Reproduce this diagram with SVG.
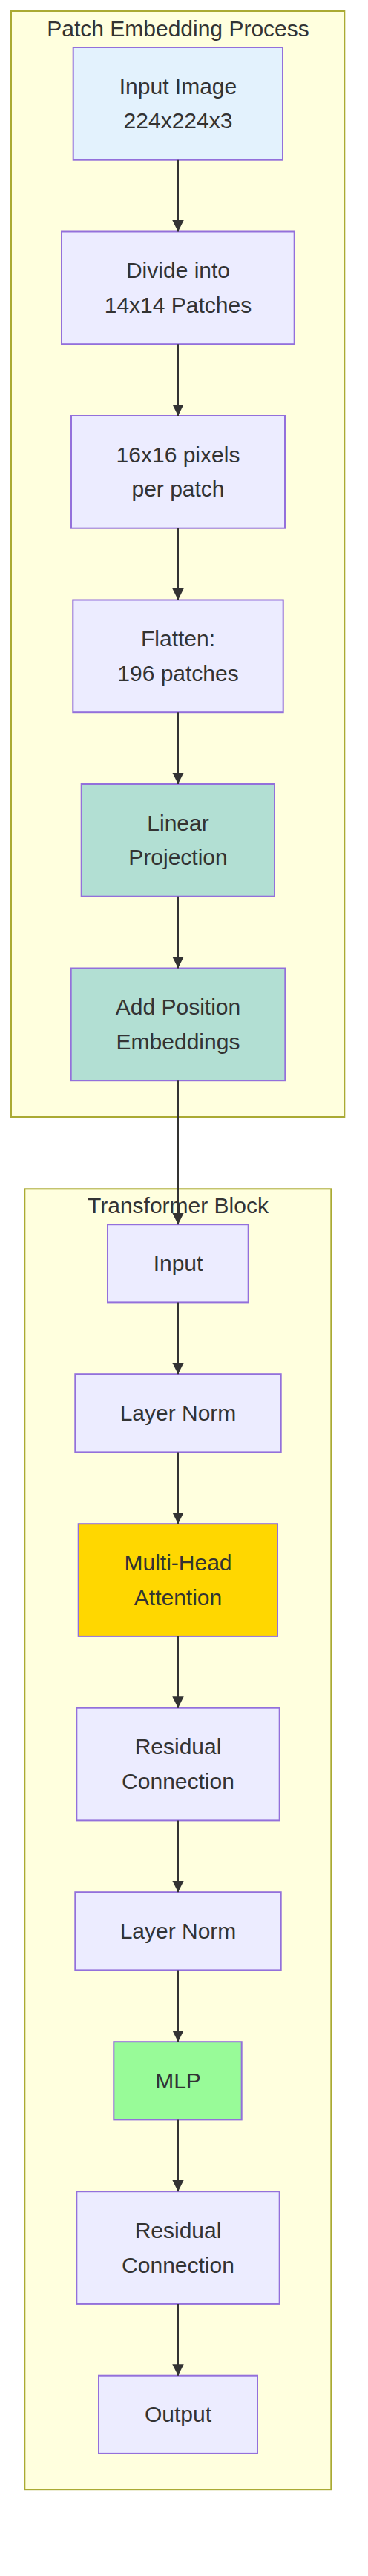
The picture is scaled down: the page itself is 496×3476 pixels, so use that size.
<svg xmlns="http://www.w3.org/2000/svg" width="496" height="3476" viewBox="0 0 496 3476">
<style>
.cluster{fill:#ffffde;stroke:#aaaa33;stroke-width:2}
.ctitle{font-family:"Liberation Sans",Arial,sans-serif;font-size:30px;fill:#333;text-anchor:middle}
.node rect{fill:#ececff;stroke:#9370db;stroke-width:2}
.node text{font-family:"Liberation Sans",Arial,sans-serif;font-size:30px;fill:#333;text-anchor:middle}
.edge{fill:none;stroke:#333;stroke-width:2}
</style>
<defs>
<marker id="arrow" viewBox="0 0 10 10" refX="10" refY="5" markerWidth="15.5" markerHeight="15.5" markerUnits="userSpaceOnUse" orient="auto">
<path d="M0,0 L10,5 L0,10 z" fill="#333"/>
</marker>
</defs>
<rect fill="#ffffff" x="0" y="0" width="496" height="3476"/>
<g id="cluster-patch">
<rect class="cluster" x="15" y="15" width="449.3" height="1492"/>
<text class="ctitle" x="240" y="49">Patch Embedding Process</text>
</g>
<g id="cluster-transformer">
<rect class="cluster" x="33.3" y="1604.3" width="413" height="1754.9"/>
<text class="ctitle" x="240" y="1637">Transformer Block</text>
</g>
<g id="node-input-image" class="node">
<rect x="98.7" y="64" width="282.3" height="151.7" style="fill:#e3f2fd"/>
<text x="240" y="126.7">Input Image</text>
<text x="240" y="173.4">224x224x3</text>
</g>
<g id="node-divide" class="node">
<rect x="83" y="312.5" width="313.7" height="151.7"/>
<text x="240" y="375.2">Divide into</text>
<text x="240" y="421.9">14x14 Patches</text>
</g>
<g id="node-pixels" class="node">
<rect x="96" y="561" width="288" height="151.7"/>
<text x="240" y="623.7">16x16 pixels</text>
<text x="240" y="670.4">per patch</text>
</g>
<g id="node-flatten" class="node">
<rect x="98.3" y="809.5" width="283.4" height="151.7"/>
<text x="240" y="872.2">Flatten:</text>
<text x="240" y="918.9">196 patches</text>
</g>
<g id="node-linear" class="node">
<rect x="109.7" y="1058" width="260.3" height="151.7" style="fill:#b2dfd3"/>
<text x="240" y="1120.7">Linear</text>
<text x="240" y="1167.4">Projection</text>
</g>
<g id="node-position" class="node">
<rect x="95.7" y="1306.5" width="288.6" height="151.7" style="fill:#b2dfd3"/>
<text x="240" y="1369.2">Add Position</text>
<text x="240" y="1415.9">Embeddings</text>
</g>
<g id="node-input" class="node">
<rect x="145" y="1652.2" width="189.7" height="105.2"/>
<text x="240" y="1715.3">Input</text>
</g>
<g id="node-ln1" class="node">
<rect x="101.3" y="1854.2" width="277.4" height="105.2"/>
<text x="240" y="1917.3">Layer Norm</text>
</g>
<g id="node-mha" class="node">
<rect x="105.7" y="2056.2" width="268.3" height="151.7" style="fill:#ffd700"/>
<text x="240" y="2118.9">Multi-Head</text>
<text x="240" y="2165.6">Attention</text>
</g>
<g id="node-res1" class="node">
<rect x="103.3" y="2304.7" width="273.4" height="151.7"/>
<text x="240" y="2367.4">Residual</text>
<text x="240" y="2414.1">Connection</text>
</g>
<g id="node-ln2" class="node">
<rect x="101.3" y="2553.2" width="277.4" height="105.2"/>
<text x="240" y="2616.4">Layer Norm</text>
</g>
<g id="node-mlp" class="node">
<rect x="153.3" y="2755.2" width="172.4" height="105.2" style="fill:#98fb98"/>
<text x="240" y="2818.3">MLP</text>
</g>
<g id="node-res2" class="node">
<rect x="103.3" y="2957.2" width="273.4" height="151.7"/>
<text x="240" y="3019.9">Residual</text>
<text x="240" y="3066.6">Connection</text>
</g>
<g id="node-output" class="node">
<rect x="133" y="3205.7" width="214" height="105.2"/>
<text x="240" y="3268">Output</text>
</g>
<g id="connectors">
<path class="edge" marker-end="url(#arrow)" d="M240,215.7 L240,312.5"/>
<path class="edge" marker-end="url(#arrow)" d="M240,464.2 L240,561"/>
<path class="edge" marker-end="url(#arrow)" d="M240,712.7 L240,809.5"/>
<path class="edge" marker-end="url(#arrow)" d="M240,961.2 L240,1058"/>
<path class="edge" marker-end="url(#arrow)" d="M240,1209.7 L240,1306.5"/>
<path class="edge" marker-end="url(#arrow)" d="M240,1458.2 L240,1652.2"/>
<path class="edge" marker-end="url(#arrow)" d="M240,1757.4 L240,1854.2"/>
<path class="edge" marker-end="url(#arrow)" d="M240,1959.4 L240,2056.2"/>
<path class="edge" marker-end="url(#arrow)" d="M240,2207.9 L240,2304.7"/>
<path class="edge" marker-end="url(#arrow)" d="M240,2456.4 L240,2553.2"/>
<path class="edge" marker-end="url(#arrow)" d="M240,2658.4 L240,2755.2"/>
<path class="edge" marker-end="url(#arrow)" d="M240,2860.4 L240,2957.2"/>
<path class="edge" marker-end="url(#arrow)" d="M240,3108.9 L240,3205.7"/>
</g>
</svg>
